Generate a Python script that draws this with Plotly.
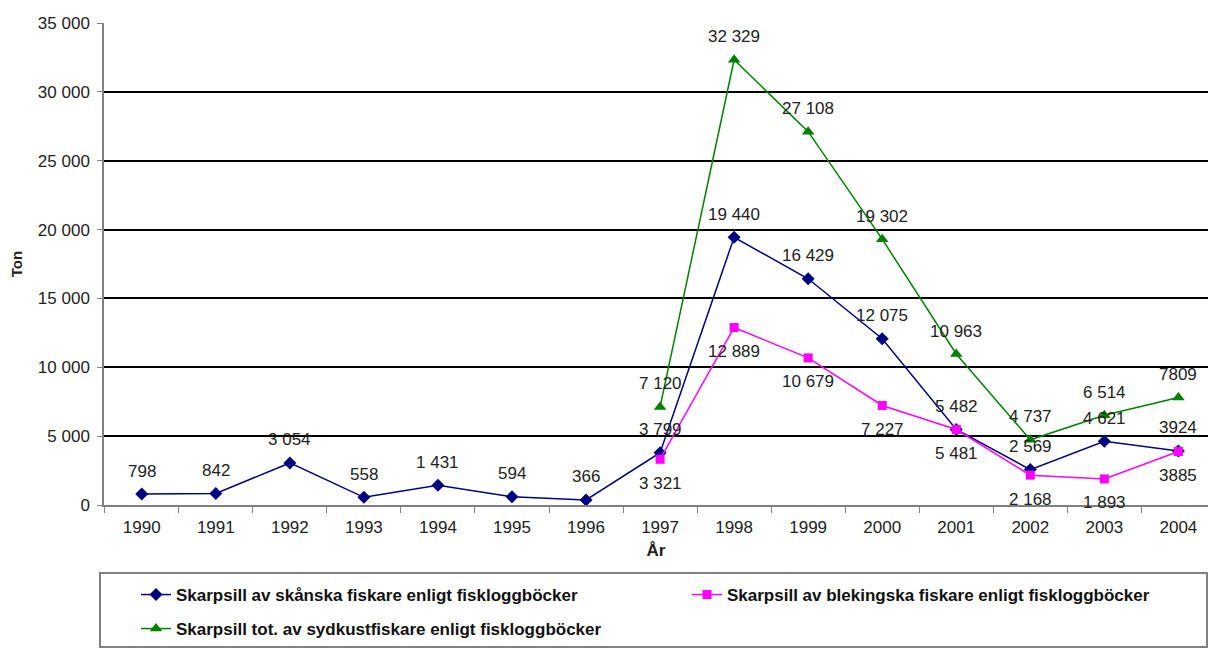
import plotly.graph_objects as go

years = [str(y) for y in range(1990, 2005)]
skane = [798, 842, 3054, 558, 1431, 594, 366, 3799, 19440, 16429, 12075, 5482, 2569, 4621, 3924]
skane_lbl = ["798", "842", "3 054", "558", "1 431", "594", "366", "3 799", "19 440", "16 429", "12 075", "5 482", "2 569", "4 621", "3924"]
bl_years = years[7:]
bleking = [3321, 12889, 10679, 7227, 5481, 2168, 1893, 3885]
bleking_lbl = ["3 321", "12 889", "10 679", "7 227", "5 481", "2 168", "1 893", "3885"]
tot = [7120, 32329, 27108, 19302, 10963, 4737, 6514, 7809]
tot_lbl = ["7 120", "32 329", "27 108", "19 302", "10 963", "4 737", "6 514", "7809"]

names = ["Skarpsill av skånska fiskare enligt fiskloggböcker",
         "Skarpsill av blekingska fiskare enligt fiskloggböcker",
         "Skarpsill tot. av sydkustfiskare enligt fiskloggböcker"]

W, H = 1208, 648
L, R, T, B = 104, 0, 23, 143
pw, ph = W - L - R, H - T - B

font = "Liberation Sans, Arial, sans-serif"
FS = 17
fig = go.Figure()
fig.add_trace(go.Scatter(x=years, y=skane, name=names[0], mode="lines+markers",
                         line=dict(color="#000080", width=1.5),
                         marker=dict(symbol="diamond", size=10, color="#000080"),
                         legend="legend"))
fig.add_trace(go.Scatter(x=bl_years, y=bleking, name=names[1], mode="lines+markers",
                         line=dict(color="#FF00FF", width=1.5),
                         marker=dict(symbol="square", size=9, color="#FF00FF"),
                         legend="legend2"))
fig.add_trace(go.Scatter(x=bl_years, y=tot, name=names[2], mode="lines+markers",
                         line=dict(color="#008000", width=1.5),
                         marker=dict(symbol="triangle-up", size=11, color="#008000"),
                         legend="legend3"))
for tr in fig.data:
    tr.showlegend = True

# data labels: placed at each point through the category axis (index) with a pixel offset
for xs, ys, lbls, shift in [(years, skane, skane_lbl, 23),
                            (bl_years, bleking, bleking_lbl, -24),
                            (bl_years, tot, tot_lbl, 23)]:
    for xv, yv, t in zip(xs, ys, lbls):
        fig.add_annotation(x=years.index(xv), y=yv, xref="x", yref="y",
                           text=t, showarrow=False, yshift=shift,
                           font=dict(size=FS, color="#222", family=font))


def px_x(p):
    return (p - L) / pw


def px_y(p):
    return (H - B - p) / ph


fig.add_shape(type="rect", xref="paper", yref="paper",
              x0=px_x(100), x1=px_x(1207), y0=px_y(647), y1=px_y(573),
              line=dict(color="#808080", width=2), fillcolor="rgba(0,0,0,0)")

legfont = dict(size=FS, family=font, color="#111", weight="bold")
common = dict(orientation="h", xanchor="left", font=legfont, bgcolor="rgba(0,0,0,0)")
fig.update_layout(
    width=W, height=H,
    margin=dict(l=L, r=R, t=T, b=B),
    paper_bgcolor="white", plot_bgcolor="white",
    font=dict(family=font, size=FS, color="#222"),
    separators=", ",
    showlegend=True,
    legend=dict(x=px_x(136), y=px_y(577), yanchor="top", **common),
    legend2=dict(x=px_x(687), y=px_y(577), yanchor="top", **common),
    legend3=dict(x=px_x(136), y=px_y(647), yanchor="bottom", **common),
    xaxis=dict(type="category", range=[-0.51, 14.4], showgrid=False,
               showline=True, linecolor="#808080", linewidth=1.5,
               ticks="outside", tickson="boundaries", ticklen=6, tickcolor="#808080",
               ticklabelstandoff=6,
               tickfont=dict(size=FS),
               title=dict(text="<b>År</b>", font=dict(size=FS), standoff=8)),
    yaxis=dict(range=[0, 35000], dtick=5000, tickformat=",d",
               showgrid=True, gridcolor="black", gridwidth=2,
               showline=True, linecolor="#808080", linewidth=1.5,
               ticks="outside", ticklen=5, tickcolor="#808080",
               ticklabelstandoff=4,
               tickfont=dict(size=FS), zeroline=False,
               title=dict(text="<b>Ton</b>", font=dict(size=15), standoff=12)),
)
fig.write_html("out.html", config={"displayModeBar": False},
               post_script="document.body.style.margin='0';")
